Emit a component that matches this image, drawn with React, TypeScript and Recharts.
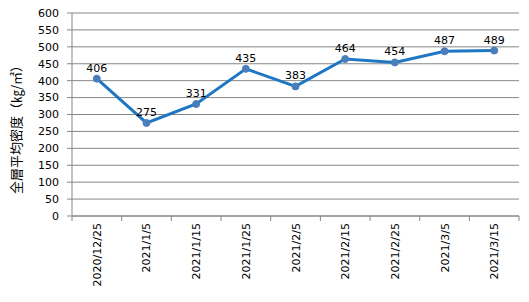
import { CartesianGrid, LabelList, Line, LineChart, XAxis, YAxis } from 'recharts'

const dates = ['2020/12/25', '2021/1/5', '2021/1/15', '2021/1/25', '2021/2/5', '2021/2/15', '2021/2/25', '2021/3/5', '2021/3/15']
const density = [406, 275, 331, 435, 383, 464, 454, 487, 489]
const yTicks = [0, 50, 100, 150, 200, 250, 300, 350, 400, 450, 500, 550, 600]

const data = dates.map((d, i) => ({ date: d, density: density[i] }))

const FONT = '"DejaVu Sans", Verdana, sans-serif'
const HALF_BAND = 24.8

const DateTick = (props: any) => {
  const { x, y, payload, index } = props
  const top = y - 7
  return (
    <g>
      <line x1={x - HALF_BAND} y1={top} x2={x - HALF_BAND} y2={top + 5} stroke="#878787" />
      {index === dates.length - 1 && (
        <line x1={x + HALF_BAND} y1={top} x2={x + HALF_BAND} y2={top + 5} stroke="#878787" />
      )}
      <text
        x={x}
        y={y}
        dy={4}
        transform={`rotate(-90, ${x}, ${y})`}
        textAnchor="end"
        fontSize={11}
        fontFamily={FONT}
        fill="#000"
      >
        {payload.value}
      </text>
    </g>
  )
}

export default function App() {
  return (
    <div style={{ position: 'absolute', left: 0, top: 0 }}>
      <LineChart width={529} height={302} data={data} margin={{ top: 13, right: 10, bottom: 0, left: 0 }}>
        <CartesianGrid vertical={false} stroke="#878787" />
        <XAxis
          dataKey="date"
          interval={0}
          padding={{ left: HALF_BAND, right: HALF_BAND }}
          height={86}
          tickSize={0}
          tickMargin={7}
          tick={<DateTick />}
          axisLine={{ stroke: '#878787' }}
        />
        <YAxis
          width={72}
          domain={[0, 600]}
          ticks={yTicks}
          interval={0}
          tickSize={5}
          tickMargin={8}
          tick={{ fontSize: 11, fontFamily: FONT, fill: '#000' }}
          axisLine={{ stroke: '#878787' }}
          tickLine={{ stroke: '#878787' }}
          label={{
            value: '全層平均密度（㎏/㎡）',
            angle: -90,
            position: 'insideLeft',
            dx: 11,
            dy: 12,
            style: { fontSize: 13, fontFamily: '"Noto Sans CJK JP", sans-serif', fill: '#000', textAnchor: 'middle' },
          }}
        />
        <Line
          dataKey="density"
          stroke="#1F77C4"
          strokeWidth={3}
          dot={{ r: 3.5, fill: '#4A7EBB', stroke: '#4A7EBB', strokeWidth: 1 }}
          isAnimationActive={false}
        >
          <LabelList dataKey="density" position="top" offset={7} style={{ fontSize: 11, fontFamily: FONT, fill: '#000' }} />
        </Line>
      </LineChart>
    </div>
  )
}
